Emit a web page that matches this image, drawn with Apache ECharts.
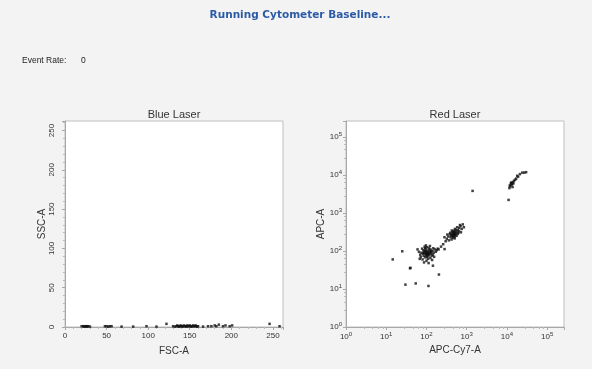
<!DOCTYPE html>
<html>
<head>
<meta charset="utf-8">
<script src="https://cdn.jsdelivr.net/npm/echarts@6/dist/echarts.min.js"></script>
<style>
html,body{margin:0;padding:0;background:#f3f3f3;}
#chart{width:592px;height:369px;}
</style>
</head>
<body>
<div id="chart"></div>
<script>
// ---- Data ----
var mainTitle = 'Running Cytometer Baseline...';
var eventRateLabel = 'Event Rate:';
var eventRateValue = '0';
var panelTitles = ['Blue Laser', 'Red Laser'];
var blueAxisNames = ['FSC-A', 'SSC-A'];
var redAxisNames = ['APC-Cy7-A', 'APC-A'];
var linearMax = 262.144;
var logMax = 262144;

// Blue laser: FSC-A vs SSC-A
var bluePoints = [
  [20,1],[22,1],[23,0.5],[24,1],[25,1],[26,0.5],[27,1],[28,1],[30,0.5],
  [48,1],[50,1],[52,0.5],[54,1],[56,1],[68,0.5],[82,0.5],[98,1],[110,0.5],
  [122,4],[130,1],[132,0.5],[134,1],[135,2],[136,1],[137,0.5],[138,1],[139,2],
  [140,1],[141,0.5],[142,1],[143,2],[144,1],[145,1],[146,0.5],[147,2],[148,1],
  [149,1],[150,2],[151,1],[152,0.5],[153,1],[154,2],[155,1],[156,1],[157,2],
  [158,1],[159,0.5],[160,1],[166,0.5],[172,1],[176,1],[180,2],[182,1],[185,3],
  [190,1],[193,2],[198,1],[201,2],[246,4],[258,1]
];

// Red laser: APC-Cy7-A vs APC-A
var redPoints = [
  // low cluster
  [100,90],[110,80],[90,100],[120,95],[85,75],[95,110],[130,85],[105,70],[75,90],[140,100],
  [115,120],[80,60],[100,55],[125,65],[90,130],[150,90],[70,80],[60,110],[160,110],[135,75],
  [95,85],[105,95],[112,88],[88,92],[98,78],[118,105],[128,92],[82,85],[92,68],[108,62],
  [145,80],[170,95],[180,105],[65,95],[78,115],[102,125],[122,135],[97,140],[87,50],[113,48],
  [138,58],[155,70],[190,115],[200,110],[72,70],[68,62],[84,104],[106,102],[116,76],[126,110],
  [132,100],[148,118],[93,118],[99,88],[103,82],[109,84],[96,96],[101,74],[119,86],[85,88],
  [145,41],
  // outliers
  [14.5,60],[25,98],[39,35],[40,36],[30,13],[54,14],[112,12],[204,24],[282,112],
  // mid cluster
  [470,275],[500,300],[430,250],[550,320],[400,230],[520,260],[450,290],[480,340],[380,280],[600,350],
  [420,200],[560,250],[350,240],[650,400],[700,450],[300,180],[260,150],[230,130],[620,300],[510,380],
  [460,220],[440,310],[490,265],[530,285],[410,260],[470,320],[390,300],[580,420],[750,380],[800,500],
  [330,270],[280,230],[360,190],[540,360],[600,280],[470,240],[505,215],[425,345],[455,270],[495,245],
  [520,305],[445,255],[640,330],[320,210],[720,310],[680,480],[850,420],
  // isolated
  [1400,3800],
  // upper cluster
  [11000,2200],[12000,5000],[13000,5500],[12500,6000],[14000,6500],[13500,5800],[11500,4500],
  [15000,7000],[17000,8000],[19000,9000],[21000,10500],[24000,11500],[27000,11500],[30000,11800],
  [16000,7500],[12800,6300],[13800,4800],[14500,6000],[18000,9500],[11800,5300]
];

function logLabel(v) {
  var e = Math.round(Math.log(v) / Math.LN10);
  return '{b|10}{s|' + e + '}';
}

var axisGrey = '#a8a8a8';
var labelColor = '#333';
var fontFam = 'Liberation Sans, Arial, sans-serif';

function linAxis(name, isY) {
  return {
    type: 'value', min: 0, max: linearMax, interval: 50,
    name: name, nameLocation: 'middle', nameGap: isY ? 17 : 19,
    nameTextStyle: {fontSize: 10, color: '#333', fontFamily: fontFam},
    axisLine: {show: true, lineStyle: {color: axisGrey, width: 1}},
    axisTick: {show: true, length: 3, inside: false, lineStyle: {color: axisGrey}},
    minorTick: {show: true, splitNumber: 5, length: 2, lineStyle: {color: '#bbb'}},
    splitLine: {show: false},
    axisLabel: {fontSize: 8, color: labelColor, fontFamily: fontFam, margin: isY ? 9 : 5,
      rotate: isY ? 90 : 0, showMaxLabel: false,
      formatter: function (v) { return String(Math.round(v)); }}
  };
}
function logAxis(name, isY) {
  return {
    type: 'log', logBase: 10, min: 1, max: logMax,
    name: name, nameLocation: 'middle', nameGap: isY ? 19 : 17,
    nameTextStyle: {fontSize: 10, color: '#333', fontFamily: fontFam},
    axisLine: {show: true, lineStyle: {color: axisGrey, width: 1}},
    axisTick: {show: true, length: 3, lineStyle: {color: axisGrey}},
    minorTick: {show: true, splitNumber: 5, length: 2, lineStyle: {color: '#bbb'}},
    splitLine: {show: false},
    axisLabel: {color: labelColor, fontFamily: fontFam, margin: 4, showMaxLabel: false,
      formatter: logLabel,
      rich: {
        b: {fontSize: 8, color: labelColor, fontFamily: fontFam},
        s: {fontSize: 6, color: labelColor, fontFamily: fontFam, verticalAlign: 'top', padding: [0,0,5,0]}
      }}
  };
}

var chart = echarts.init(document.getElementById('chart'), null, {renderer: 'canvas'});
chart.setOption({
  backgroundColor: '#f3f3f3',
  animation: false,
  title: [
    {text: mainTitle, left: 300, top: 10, textAlign: 'center', padding: 0,
      textStyle: {fontSize: 10.5, fontWeight: 'bold', color: '#2c5aa6', fontFamily: 'DejaVu Sans, sans-serif'}},
    {text: panelTitles[0], left: 174, top: 109, textAlign: 'center', padding: 0,
      textStyle: {fontSize: 11, fontWeight: 'normal', color: '#333', fontFamily: fontFam}},
    {text: panelTitles[1], left: 455, top: 109, textAlign: 'center', padding: 0,
      textStyle: {fontSize: 11, fontWeight: 'normal', color: '#333', fontFamily: fontFam}}
  ],
  graphic: [
    {type: 'text', left: 22, top: 56, style: {text: eventRateLabel, fontSize: 8.5, fill: '#222', fontFamily: fontFam}},
    {type: 'text', left: 81, top: 56, style: {text: eventRateValue, fontSize: 8.5, fill: '#222', fontFamily: fontFam}}
  ],
  grid: [
    {left: 65, top: 121, width: 218, height: 206, show: true, backgroundColor: '#fff', borderColor: '#c0c0c0', borderWidth: 1},
    {left: 346, top: 121, width: 218, height: 206, show: true, backgroundColor: '#fff', borderColor: '#c0c0c0', borderWidth: 1}
  ],
  xAxis: [
    Object.assign(linAxis(blueAxisNames[0], false), {gridIndex: 0}),
    Object.assign(logAxis(redAxisNames[0], false), {gridIndex: 1})
  ],
  yAxis: [
    Object.assign(linAxis(blueAxisNames[1], true), {gridIndex: 0}),
    Object.assign(logAxis(redAxisNames[1], true), {gridIndex: 1})
  ],
  series: [
    {type: 'scatter', xAxisIndex: 0, yAxisIndex: 0, data: bluePoints, symbol: 'rect', symbolSize: 2.5,
      itemStyle: {color: '#111'}, silent: true},
    {type: 'scatter', xAxisIndex: 1, yAxisIndex: 1, data: redPoints, symbol: 'rect', symbolSize: 2.5,
      itemStyle: {color: '#111'}, silent: true}
  ]
});
</script>
</body>
</html>
